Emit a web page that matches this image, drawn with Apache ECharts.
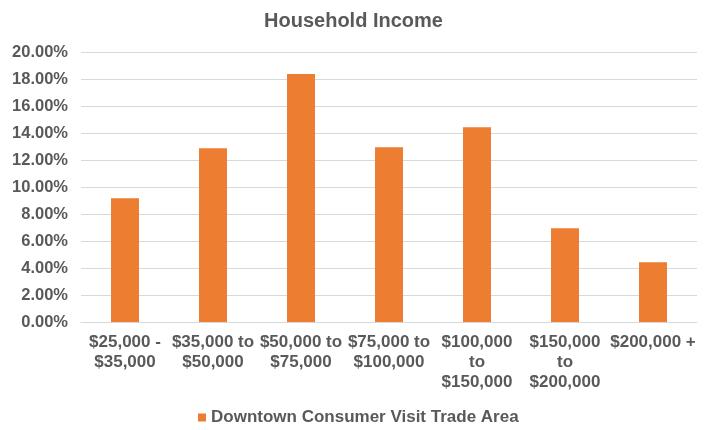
<!DOCTYPE html>
<html>
<head>
<meta charset="utf-8">
<script src="https://cdn.jsdelivr.net/npm/echarts@6/dist/echarts.min.js"></script>
<style>
html,body{margin:0;padding:0;background:#fff;}
#chart{width:707px;height:430px;}
</style>
</head>
<body>
<div id="chart"></div>
<script>
const categories = ["$25,000 -\n$35,000", "$35,000 to\n$50,000", "$50,000 to\n$75,000", "$75,000 to\n$100,000", "$100,000\nto\n$150,000", "$150,000\nto\n$200,000", "$200,000 +"];
const seriesName = "Downtown Consumer Visit Trade Area";
const values = [9.17, 12.87, 18.37, 12.94, 14.43, 6.94, 4.42];
const yTicks = [0, 2, 4, 6, 8, 10, 12, 14, 16, 18, 20];

const chart = echarts.init(document.getElementById('chart'), null, {renderer: 'canvas'});
const font = '"Liberation Sans", Arial, sans-serif';
const grey = '#595959';
chart.setOption({
  animation: false,
  backgroundColor: '#fff',
  title: {
    text: 'Household Income',
    left: 'center',
    top: 6,
    textStyle: {fontFamily: font, fontSize: 20, fontWeight: 'bold', color: grey}
  },
  legend: {
    data: [seriesName],
    bottom: 4,
    left: 198,
    padding: 0,
    icon: 'rect',
    itemWidth: 8,
    itemHeight: 8,
    textStyle: {fontFamily: font, fontSize: 17, fontWeight: 'bold', color: grey}
  },
  grid: {left: 81, right: 10, top: 52, bottom: 108, containLabel: false},
  xAxis: {
    type: 'category',
    data: categories,
    axisLine: {lineStyle: {color: '#d9d9d9', width: 1}},
    axisTick: {show: false},
    axisLabel: {fontFamily: font, fontSize: 17, fontWeight: 'bold', color: grey, lineHeight: 20, margin: 10, interval: 0}
  },
  yAxis: {
    type: 'value',
    min: yTicks[0],
    max: yTicks[yTicks.length - 1],
    interval: 2,
    axisLine: {show: false},
    axisTick: {show: false},
    splitLine: {lineStyle: {color: '#d9d9d9', width: 1}},
    axisLabel: {fontFamily: font, fontSize: 16.5, fontWeight: 'bold', color: grey, margin: 13,
      formatter: v => v.toFixed(2) + '%'}
  },
  series: [{
    name: seriesName,
    type: 'bar',
    data: values,
    barWidth: 28,
    itemStyle: {color: '#ED7D31'}
  }]
});
</script>
</body>
</html>
